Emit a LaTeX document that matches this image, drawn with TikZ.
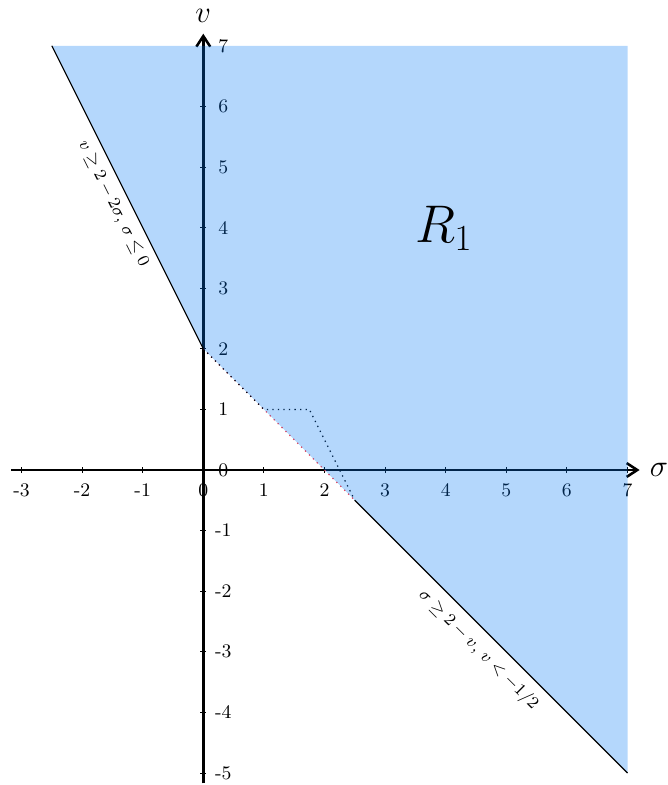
\documentclass[tikz,border=0pt]{standalone}
\usepackage{amssymb}
\usetikzlibrary{arrows.meta}
\definecolor{regionblue}{RGB}{5,121,245}
\definecolor{dotred}{RGB}{235,60,80}
\tikzset{
  axisline/.style={line width=1.4pt, -{Straight Barb[length=5pt,width=6.5pt,line width=1.2pt]}},
  tickmark/.style={line width=0.4pt},
  ticklabel/.style={font=\fontsize{9}{10}\selectfont, inner sep=0pt},
  boundary/.style={line width=0.5pt, black},
  linelabel/.style={font=\fontsize{8.5}{10}\selectfont, inner sep=0pt},
  region/.style={fill=regionblue, fill opacity=0.3, draw=none},
  guidedots/.style={dotted, line width=0.6pt},
}
\begin{document}
\begin{tikzpicture}
\useasboundingbox (-3.355,-5.198) rectangle (7.652,7.756);
% tick labels
\foreach \x in {-3,-2,-1,0,1,2,3,4,5,6,7} {
  \node[ticklabel] (sx\x) at (\x,-0.33) {\x};
}
\foreach \y in {-5,-4,-3,-2,-1,0,1,2,3,4,5,6,7} {
  \node[ticklabel] (vy\y) at (0.33,\y) {\y};
}
% axes
\coordinate (xs) at (-3.17,0);
\coordinate (xe) at (7.2,0);
\coordinate (ys) at (0,-5.17);
\coordinate (ye) at (0,7.2);
\draw[axisline] (xs) -- (xe);
\draw[axisline] (ys) -- (ye);
\foreach \x in {-3,-2,-1,1,2,3,4,5,6,7} {
  \draw[tickmark] (\x,-0.05) -- (\x,0.05);
}
\foreach \y in {-5,-4,-3,-2,-1,1,2,3,4,5,6} {
  \draw[tickmark] (-0.05,\y) -- (0.05,\y);
}
\node[font=\fontsize{15}{18}\selectfont, inner sep=1pt] (vlab) at (0,7.5) {$v$};
\node[font=\fontsize{15}{18}\selectfont, inner sep=1pt] (slab) at (7.52,0) {$\sigma$};
% corner points
\coordinate (A) at (-2.5,7);
\coordinate (B) at (7,7);
\coordinate (C) at (7,-5);
\coordinate (D) at (2.5,-0.5);
\coordinate (E) at (0,2);
\coordinate (P) at (1,1);
\coordinate (Q) at (1.75,1);
% dotted guides
\draw[guidedots, dotred] (E) -- (D);
\draw[guidedots, black] (E) -- (P) -- (Q) -- (D);
% region
\fill[region] (A) -- (B) -- (C) -- (D) -- (E) -- cycle;
% boundaries
\draw[boundary] (A) -- (E);
\draw[boundary] (D) -- (C);
\node[linelabel, rotate=-63.43] (lab1) at (-1.485,4.39) {$v \geq 2 - 2\sigma,\, \sigma \leq 0$};
\node[linelabel, rotate=-45] (lab2) at (4.54,-2.97) {$\sigma \geq 2 - v,\, v < -1/2$};
\node[font=\fontsize{24}{28}\selectfont] (R) at (3.97,3.99) {$R_1$};
\end{tikzpicture}
\end{document}
